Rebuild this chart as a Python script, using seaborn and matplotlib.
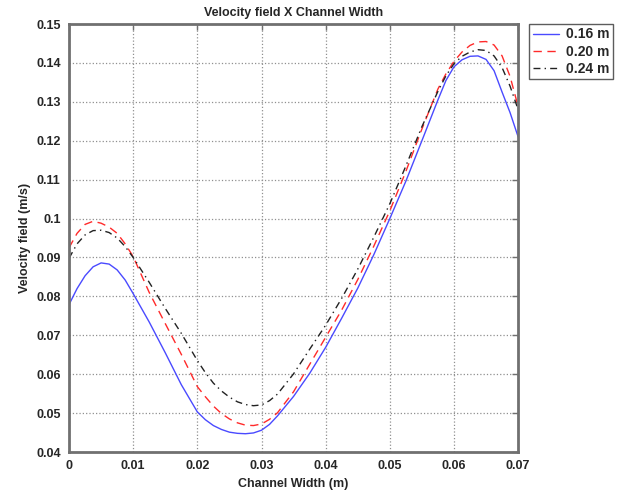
import matplotlib

matplotlib.use("Agg")
import matplotlib.pyplot as plt
import pandas as pd
import seaborn as sns

# channel width positions (m), denser near the bends
width = [
    0.0, 0.00125, 0.0025, 0.00375, 0.005, 0.00625, 0.0075, 0.00875, 0.01,
    0.0125, 0.015, 0.0175, 0.02, 0.02125,
    0.0225, 0.02375, 0.025, 0.02625, 0.0275, 0.02875, 0.03, 0.03125, 0.0325,
    0.035, 0.0375, 0.04, 0.0425, 0.045, 0.0475, 0.05, 0.0525, 0.055,
    0.0575, 0.05875, 0.06, 0.06125, 0.0625, 0.06375, 0.065, 0.06625, 0.0675, 0.06875, 0.07,
]

vel_016 = [
    0.0779, 0.0820, 0.0853, 0.0876, 0.0886, 0.0883, 0.0868, 0.0842, 0.0807,
    0.0734, 0.0655, 0.0573, 0.0503, 0.0483,
    0.0468, 0.0458, 0.0451, 0.0448, 0.0447, 0.0449, 0.0456, 0.0471, 0.0493,
    0.0543, 0.0602, 0.0669, 0.0744, 0.0821, 0.0907, 0.1000, 0.1096, 0.1200,
    0.1305, 0.1355, 0.1390, 0.1408, 0.1417, 0.1418, 0.1409, 0.1380, 0.1325, 0.1272, 0.1210,
]
vel_020 = [
    0.0925, 0.0962, 0.0985, 0.0993, 0.0988, 0.0978, 0.0962, 0.0935, 0.0902,
    0.0810, 0.0730, 0.0651, 0.0568, 0.0542,
    0.0518, 0.0499, 0.0485, 0.0475, 0.0469, 0.0468, 0.0472, 0.0484, 0.0501,
    0.0555, 0.0625, 0.0695, 0.0765, 0.0843, 0.0929, 0.1020, 0.1121, 0.1230,
    0.1333, 0.1372, 0.1404, 0.1428, 0.1445, 0.1454, 0.1455, 0.1446, 0.1418, 0.1365, 0.1288,
]
vel_024 = [
    0.0898, 0.0935, 0.0958, 0.0969, 0.0970, 0.0964, 0.0950, 0.0928, 0.0900,
    0.0836, 0.0769, 0.0705, 0.0635, 0.0604,
    0.0577, 0.0557, 0.0541, 0.0529, 0.0522, 0.0519, 0.0521, 0.0532, 0.0549,
    0.0601, 0.0664, 0.0726, 0.0795, 0.0870, 0.0952, 0.1038, 0.1135, 0.1236,
    0.1327, 0.1367, 0.1398, 0.1417, 0.1428, 0.1434, 0.1432, 0.1418, 0.1388, 0.1340, 0.1280,
]

series_names = ["0.16 m", "0.20 m", "0.24 m"]
x_ticks = [0, 0.01, 0.02, 0.03, 0.04, 0.05, 0.06, 0.07]
x_labels = ["0", "0.01", "0.02", "0.03", "0.04", "0.05", "0.06", "0.07"]
y_ticks = [0.04, 0.05, 0.06, 0.07, 0.08, 0.09, 0.10, 0.11, 0.12, 0.13, 0.14, 0.15]
y_labels = ["0.04", "0.05", "0.06", "0.07", "0.08", "0.09", "0.1",
            "0.11", "0.12", "0.13", "0.14", "0.15"]

df = pd.DataFrame({"width": width, series_names[0]: vel_016,
                   series_names[1]: vel_020, series_names[2]: vel_024})
df = df.melt(id_vars="width", var_name="series", value_name="velocity")

sns.set_style("white")
plt.rcParams["font.family"] = ["Liberation Sans", "DejaVu Sans"]
plt.rcParams["font.weight"] = "bold"

fig = plt.figure(figsize=(6.22, 4.91), dpi=100)
ax = fig.add_axes([0.111, 0.0794, 0.722, 0.8717])

palette = {"0.16 m": "#4a4aff", "0.20 m": "#ff2a2a", "0.24 m": "#222222"}
dashes = {"0.16 m": "", "0.20 m": (6, 4), "0.24 m": (5, 3, 1, 3)}
sns.lineplot(data=df, x="width", y="velocity", hue="series", style="series",
             palette=palette, dashes=dashes, linewidth=1.0, ax=ax)

ax.set_xlim(0, 0.07)
ax.set_ylim(0.04, 0.15)
ax.set_xticks(x_ticks)
ax.set_xticklabels(x_labels)
ax.set_yticks(y_ticks)
ax.set_yticklabels(y_labels)
ax.tick_params(direction="in", length=4, width=1, color="#707070",
               top=True, right=True, labelsize=9, pad=6)
for lab in ax.get_xticklabels() + ax.get_yticklabels():
    lab.set_fontweight("bold")
ax.grid(True, linestyle=":", color="#909090", linewidth=0.9)
for side in ax.spines.values():
    side.set_color("#707070")
    side.set_linewidth(2)

ax.set_title("Velocity field X Channel Width", fontsize=9, fontweight="bold", pad=6)
ax.set_xlabel("Channel Width (m)", fontsize=9, fontweight="bold", labelpad=4)
ax.set_ylabel("Velocity field (m/s)", fontsize=9, fontweight="bold", labelpad=4)

leg = ax.legend(loc="upper left", bbox_to_anchor=(1.025, 1.0), frameon=True,
                fancybox=False, edgecolor="#333333", fontsize=10,
                handlelength=1.9, handletextpad=0.5, borderpad=0.25,
                borderaxespad=0.0, labelspacing=0.22, title=None)
leg.get_frame().set_linewidth(1.0)
for t in leg.get_texts():
    t.set_fontweight("bold")

fig.savefig("out.png", dpi=100)
